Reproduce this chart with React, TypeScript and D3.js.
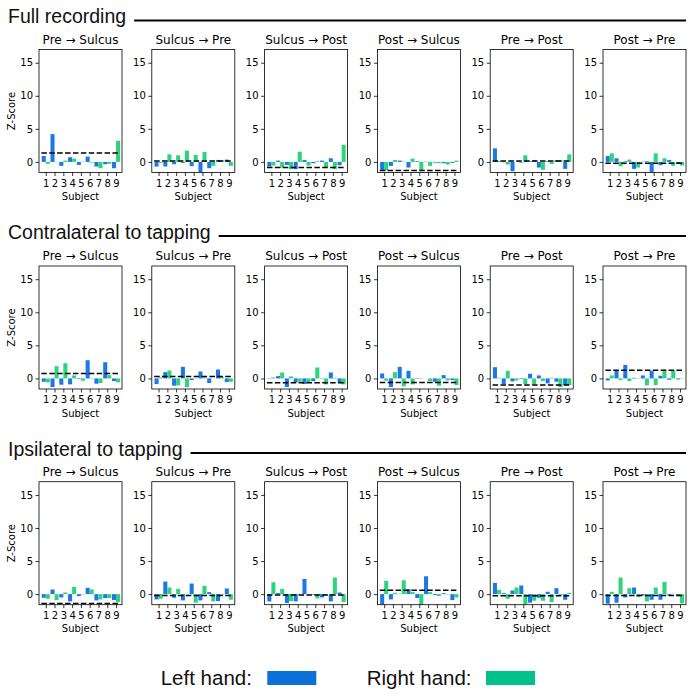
import React, { useEffect, useRef } from "react";
import * as d3 from "d3";

const subjects = [1, 2, 3, 4, 5, 6, 7, 8, 9];
const transitions = ["Pre → Sulcus", "Sulcus → Pre", "Sulcus → Post", "Post → Sulcus", "Pre → Post", "Post → Pre"];
const sections = ["Full recording", "Contralateral to tapping", "Ipsilateral to tapping"];
const yTicks = [0, 5, 10, 15];

// Z-scores per transition, one row per transition, one value per subject
const fullLeft = [
  [0.9, 4.2, -0.6, 0.7, -0.45, 0.8, -0.7, -0.35, -0.95],
  [-0.7, -0.7, -0.35, -0.15, -0.65, -1.6, -0.95, 0.3, 0.35],
  [-0.7, 0.2, -0.45, -1.1, 0.3, -0.2, 0.2, 0.55, -0.5],
  [-1.2, -0.6, 0.2, -0.85, 0.1, 0.05, -0.1, -0.2, -0.15],
  [2.05, -0.05, -1.4, -0.1, 0.1, -0.85, 0.1, 0.25, -1.05],
  [0.9, 0.55, 0.1, -1.05, 0.05, -1.6, -0.5, 0.3, -0.3],
];
const fullRight = [
  [-0.3, -0.05, 0.2, 0.5, 0.05, -0.1, -0.95, -0.3, 3.2],
  [-0.15, 1.15, 1.0, 1.7, 1.05, 1.5, -0.6, 0.25, -0.6],
  [-0.55, -0.85, -1.1, 1.55, -0.55, 0.1, -0.85, -1.1, 2.6],
  [-1.3, 0.3, 0.05, 0.5, -1.3, -0.6, -0.2, -0.4, 0.2],
  [0.15, -0.4, 0.05, 1.0, 0.3, -1.2, -0.3, 0.3, 1.15],
  [1.3, -0.65, 0.35, -0.85, 0.15, 1.3, 0.55, -0.6, -0.55],
];
const fullThreshold = [1.35, 0.15, -0.85, -1.3, 0.15, -0.2];

const contraLeft = [
  [-0.5, -1.3, -0.95, -0.9, -0.1, 2.75, -0.8, 2.45, -0.4],
  [-0.85, 0.95, -1.1, 1.75, -0.25, 1.05, -0.7, 1.35, -0.55],
  [0.05, 0.35, -1.3, -0.6, -0.85, -0.4, 0.05, 0.9, -0.6],
  [0.75, -1.3, 1.75, 1.15, -0.05, 0.0, -0.5, 0.5, -0.25],
  [1.7, -0.85, -0.45, -0.1, 0.7, 0.45, -0.75, -0.5, -1.0],
  [-0.3, 1.2, 2.05, 0.1, 0.45, 1.15, 0.4, -0.2, -0.15],
];
const contraRight = [
  [-0.6, 1.85, 2.3, 0.45, -0.35, 0.05, -0.7, 0.5, -0.6],
  [0.15, 1.2, -1.05, -1.3, 0.05, 0.15, 0.0, 0.2, -0.5],
  [0.15, 0.9, 0.3, -0.5, -0.6, 1.65, -0.9, 0.1, -0.9],
  [-0.35, 0.95, -1.2, -0.9, -0.05, -0.4, -1.1, -0.3, -1.0],
  [0.1, 1.15, -0.3, -0.85, -0.9, -0.4, 0.1, -1.3, -1.0],
  [0.45, -0.25, -0.4, 0.05, -1.05, -1.0, 1.3, 1.2, -0.05],
];
const contraThreshold = [0.75, 0.3, -0.65, -0.6, -1.0, 1.25];

const ipsiLeft = [
  [-0.55, 0.7, -0.5, -1.1, -0.3, 0.95, -0.95, -0.6, -0.9],
  [-0.8, 1.9, -0.55, -0.95, 1.6, -0.95, 0.3, -1.05, 0.85],
  [-1.1, 0.15, -1.35, -1.1, 2.3, -0.1, -0.5, -1.1, 0.25],
  [-1.6, -0.8, 0.05, 0.75, -0.6, 2.7, -0.15, 0.15, -0.9],
  [1.7, 0.15, 0.55, 1.3, -1.3, -0.55, 0.35, 0.9, -0.85],
  [-1.45, -1.3, -0.5, 1.0, -0.2, -0.85, -0.85, -0.2, -0.3],
];
const ipsiRight = [
  [-0.7, -0.9, 0.25, 1.1, -0.05, 0.7, -0.8, -0.6, -1.2],
  [-0.7, 1.0, 0.8, 0.05, -1.3, 1.25, -1.1, -0.1, -0.85],
  [1.8, 0.8, -1.05, 0.05, 0.0, -0.65, -0.2, 2.5, -1.2],
  [2.0, 0.2, 2.1, 0.3, -1.6, 0.3, -0.3, -0.05, -0.5],
  [0.65, -0.7, 1.0, -1.5, -1.0, -1.0, -1.2, -0.2, 0.2],
  [0.35, 2.5, 0.9, -0.45, -1.1, 1.0, 1.85, 0.05, -1.4],
];
const ipsiThreshold = [-1.4, -0.2, -0.15, 0.6, -0.25, -0.2];

const sectionData = [
  { left: fullLeft, right: fullRight, threshold: fullThreshold },
  { left: contraLeft, right: contraRight, threshold: contraThreshold },
  { left: ipsiLeft, right: ipsiRight, threshold: ipsiThreshold },
];

const LEFT_COLOR = "#1c78e4";
const RIGHT_COLOR = "#2ed47c";
const MPL_FONT = "'DejaVu Sans', sans-serif";
const TITLE_FONT = "'Liberation Sans', Arial, sans-serif";

const width = 695;
const height = 698;
const boxW = 83;
const boxH = 123;
const colX0 = 39;
const colStep = 112.8;
const rowTop = [49.5, 266, 481.7];
const headBaseline = [23, 238.5, 455.5];
const headRule = [20.5, 236, 453];

const App = () => {
  const ref = useRef<SVGSVGElement>(null);

  useEffect(() => {
    const svg = d3.select(ref.current);
    svg.selectAll("*").remove();

    const x = d3.scaleLinear().domain([0.23, 9.68]).range([0, boxW]);
    const y = d3.scaleLinear().domain([-1.6, 17]).range([boxH, 0]);
    const barW = 0.46;

    sections.forEach((section, r) => {
      const head = svg.append("text")
        .attr("x", 8)
        .attr("y", headBaseline[r])
        .attr("font-family", TITLE_FONT)
        .attr("font-size", 19.5)
        .attr("fill", "#111")
        .text(section);
      const textEnd = 8 + (head.node() as SVGTextElement).getComputedTextLength();
      svg.append("line")
        .attr("x1", textEnd + 8)
        .attr("x2", 686)
        .attr("y1", headRule[r])
        .attr("y2", headRule[r])
        .attr("stroke", "#000")
        .attr("stroke-width", 2);

      const { left, right, threshold } = sectionData[r];

      transitions.forEach((name, c) => {
        const g = svg.append("g")
          .attr("transform", `translate(${colX0 + c * colStep}, ${rowTop[r]})`);

        const clipId = `clip-${r}-${c}`;
        g.append("clipPath").attr("id", clipId)
          .append("rect").attr("width", boxW).attr("height", boxH);

        const plot = g.append("g").attr("clip-path", `url(#${clipId})`);

        plot.selectAll(".left")
          .data(subjects)
          .enter().append("rect")
          .attr("x", (s) => x(s - barW))
          .attr("width", x(barW) - x(0))
          .attr("y", (s, i) => y(Math.max(0, left[c][i])))
          .attr("height", (s, i) => Math.abs(y(left[c][i]) - y(0)))
          .attr("fill", LEFT_COLOR);

        plot.selectAll(".right")
          .data(subjects)
          .enter().append("rect")
          .attr("x", (s) => x(s))
          .attr("width", x(barW) - x(0))
          .attr("y", (s, i) => y(Math.max(0, right[c][i])))
          .attr("height", (s, i) => Math.abs(y(right[c][i]) - y(0)))
          .attr("fill", RIGHT_COLOR);

        plot.append("line")
          .attr("x1", x(0.5))
          .attr("x2", x(9.5))
          .attr("y1", y(threshold[c]))
          .attr("y2", y(threshold[c]))
          .attr("stroke", "#000")
          .attr("stroke-width", 1.5)
          .attr("stroke-dasharray", "5.5,2.4");

        const yAxis = g.append("g")
          .call(d3.axisLeft(y).tickValues(yTicks).tickSize(3.5).tickPadding(2.5));
        yAxis.select(".domain").remove();
        yAxis.selectAll("line").attr("stroke-width", 0.8);
        yAxis.attr("font-family", MPL_FONT).attr("font-size", 10);
        yAxis.selectAll("text").attr("fill", "#000");

        const xAxis = g.append("g")
          .attr("transform", `translate(0, ${boxH})`)
          .call(d3.axisBottom(x).tickValues(subjects).tickFormat(d3.format("d")).tickSize(3.5).tickPadding(3.5));
        xAxis.select(".domain").remove();
        xAxis.selectAll("line").attr("stroke-width", 0.8);
        xAxis.attr("font-family", MPL_FONT).attr("font-size", 10);
        xAxis.selectAll("text").attr("fill", "#000");

        g.append("rect")
          .attr("width", boxW)
          .attr("height", boxH)
          .attr("fill", "none")
          .attr("stroke", "#000")
          .attr("stroke-width", 0.8);

        g.append("text")
          .attr("x", boxW / 2)
          .attr("y", -6)
          .attr("text-anchor", "middle")
          .attr("font-family", MPL_FONT)
          .attr("font-size", 12)
          .text(name);

        g.append("text")
          .attr("x", boxW / 2)
          .attr("y", boxH + 27.5)
          .attr("text-anchor", "middle")
          .attr("font-family", MPL_FONT)
          .attr("font-size", 10)
          .text("Subject");

        if (c === 0) {
          g.append("text")
            .attr("transform", `translate(${15 - colX0}, ${boxH / 2}) rotate(-90)`)
            .attr("text-anchor", "middle")
            .attr("font-family", MPL_FONT)
            .attr("font-size", 10)
            .text("Z-Score");
        }
      });
    });

    // legend
    const legend = [
      { label: "Left hand:", x: 160.7, swatch: 267.3, color: "#0b70d8" },
      { label: "Right hand:", x: 366.7, swatch: 486, color: "#00c08c" },
    ];
    legend.forEach((d) => {
      svg.append("text")
        .attr("x", d.x)
        .attr("y", 684.5)
        .attr("font-family", TITLE_FONT)
        .attr("font-size", 20.5)
        .attr("fill", "#111")
        .text(d.label);
      svg.append("rect")
        .attr("x", d.swatch)
        .attr("y", 671)
        .attr("width", 49)
        .attr("height", 14)
        .attr("fill", d.color);
    });
  }, []);

  return (
    <svg
      ref={ref}
      width={width}
      height={height}
      style={{ position: "absolute", left: 0, top: 0, background: "#fff" }}
    />
  );
};

export default App;
